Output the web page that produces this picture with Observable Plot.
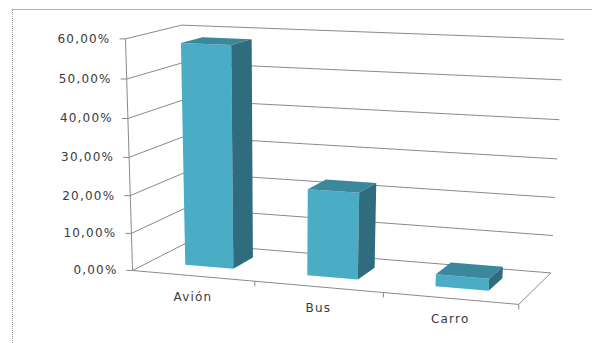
<!DOCTYPE html>
<html><head><meta charset="utf-8">
<script src="https://cdn.jsdelivr.net/npm/d3@7"></script>
<script src="https://cdn.jsdelivr.net/npm/@observablehq/plot@0.6"></script>
<style>
body{margin:0;background:#fff;}
#wrap{position:relative;width:592px;height:343px;overflow:hidden;}
#border{position:absolute;left:12px;top:9px;right:-4px;bottom:-4px;border-top:1px solid #b4b4b4;border-left:1px dotted #9a9a9a;pointer-events:none;}
svg text{letter-spacing:1.2px;}
</style></head><body><div id="wrap"><div id="border"></div></div>
<script>
// ---- data ----
const categories = ["Avión", "Bus", "Carro"];
const values = [0.582, 0.227, 0.031];
const yTicks = [0, 0.1, 0.2, 0.3, 0.4, 0.5, 0.6];
const yTickLabels = ["0,00%", "10,00%", "20,00%", "30,00%", "40,00%", "50,00%", "60,00%"];

// ---- 3D camera (perspective), fitted to the reference box corners ----
// world: X = category position (0..n), Y = value*10, Z = depth (0 front .. 1 back)
const calib = [
  [[0,0,0],[134,269]], [[0,6,0],[123,38]], [[0,0,1],[183,244]], [[0,6,1],[183,25]],
  [[3,0,0],[518,305]], [[3,0,1],[551,270]], [[3,6,1],[563,39]],
  [[1,0,0],[255,281]], [[2,0,0],[382,293]], [[3,3,1],[557,159]], [[0,3,0],[129,156]]
];
function solve(A, b) {
  const n = b.length, M = A.map((r, i) => [...r, b[i]]);
  for (let c = 0; c < n; c++) {
    let p = c;
    for (let r = c + 1; r < n; r++) if (Math.abs(M[r][c]) > Math.abs(M[p][c])) p = r;
    [M[c], M[p]] = [M[p], M[c]];
    for (let r = 0; r < n; r++) {
      if (r === c) continue;
      const f = M[r][c] / M[c][c];
      for (let k = c; k <= n; k++) M[r][k] -= f * M[c][k];
    }
  }
  return M.map((r, i) => r[n] / r[i]);
}
const rows = [], rhs = [];
for (const [[X,Y,Z],[u,v]] of calib) {
  rows.push([X,Y,Z,1,0,0,0,0,-u*X,-u*Y,-u*Z]); rhs.push(u);
  rows.push([0,0,0,0,X,Y,Z,1,-v*X,-v*Y,-v*Z]); rhs.push(v);
}
const AtA = Array.from({length: 11}, (_, i) => Array.from({length: 11}, (_, j) => d3.sum(rows, r => r[i] * r[j])));
const Atb = Array.from({length: 11}, (_, i) => d3.sum(rows, (r, k) => r[i] * rhs[k]));
const P = solve(AtA, Atb);
function proj(X, Y, Z) {
  const w = P[8]*X + P[9]*Y + P[10]*Z + 1;
  return [(P[0]*X + P[1]*Y + P[2]*Z + P[3]) / w, (P[4]*X + P[5]*Y + P[6]*Z + P[7]) / w];
}
const n = categories.length;
const Yof = v => v * 10;

// ---- geometry derived from data ----
const segs = [];
function seg(a, b) { const p = proj(...a), q = proj(...b); segs.push({x1: p[0], y1: p[1], x2: q[0], y2: q[1]}); }
for (const t of yTicks) {
  seg([0, Yof(t), 0], [0, Yof(t), 1]);
  seg([0, Yof(t), 1], [n, Yof(t), 1]);
}
seg([0, 0, 0], [n, 0, 0]);
seg([n, 0, 0], [n, 0, 1]);
seg([0, 0, 0], [0, Yof(d3.max(yTicks)), 0]);

const yLab = yTicks.map((t, i) => { const [x, y] = proj(0, Yof(t), 0); return {x, y, label: yTickLabels[i]}; });
const xTickPts = d3.range(1, n + 1).map(k => { const [x, y] = proj(k, 0, 0); return {x, y}; });
const xLab = categories.map((c, i) => { const [x, y] = proj(i + 0.5, 0, 0); return {x, y, label: c}; });

const faces = {front: [], top: [], side: []};
values.forEach((v, i) => {
  const x0 = i + 0.3, x1 = i + 0.7, z0 = 0.31, z1 = 0.71, h = Yof(v);
  const push = (face, pts) => pts.forEach(p => { const [x, y] = proj(...p); faces[face].push({bar: i, x, y}); });
  push("front", [[x0,0,z0],[x1,0,z0],[x1,h,z0],[x0,h,z0],[x0,0,z0]]);
  push("top", [[x0,h,z0],[x1,h,z0],[x1,h,z1],[x0,h,z1],[x0,h,z0]]);
  push("side", [[x1,0,z0],[x1,0,z1],[x1,h,z1],[x1,h,z0],[x1,0,z0]]);
});

const textColor = "#3a3a3a";
const chart = Plot.plot({
  width: 592, height: 343, margin: 0,
  x: {type: "linear", domain: [0, 592], range: [0, 592], axis: null},
  y: {type: "linear", domain: [0, 343], range: [0, 343], axis: null},
  style: {background: "transparent", fontFamily: "'DejaVu Sans', sans-serif", overflow: "visible"},
  marks: [
    Plot.link(segs, {x1: "x1", y1: "y1", x2: "x2", y2: "y2", stroke: "#8a8a8a", strokeWidth: 1}),
    Plot.link(yLab, {x1: d => d.x - 6, y1: "y", x2: "x", y2: "y", stroke: "#8a8a8a"}),
    Plot.link(xTickPts, {x1: "x", y1: "y", x2: "x", y2: d => d.y + 5, stroke: "#8a8a8a"}),
    Plot.line(faces.front, {x: "x", y: "y", z: "bar", fill: "#4BACC6", stroke: "none"}),
    Plot.line(faces.top, {x: "x", y: "y", z: "bar", fill: "#3B889C", stroke: "none"}),
    Plot.line(faces.side, {x: "x", y: "y", z: "bar", fill: "#2F6C7E", stroke: "none"}),
    Plot.text(yLab, {x: d => d.x - 15, y: "y", text: "label", textAnchor: "end", fontSize: 12, fill: textColor}),
    Plot.text(xLab, {x: "x", y: d => d.y + 21, text: "label", fontSize: 12, fill: textColor})
  ]
});
chart.style.position = "absolute"; chart.style.left = "0"; chart.style.top = "0";
document.getElementById("wrap").prepend(chart);
</script>
</body></html>
